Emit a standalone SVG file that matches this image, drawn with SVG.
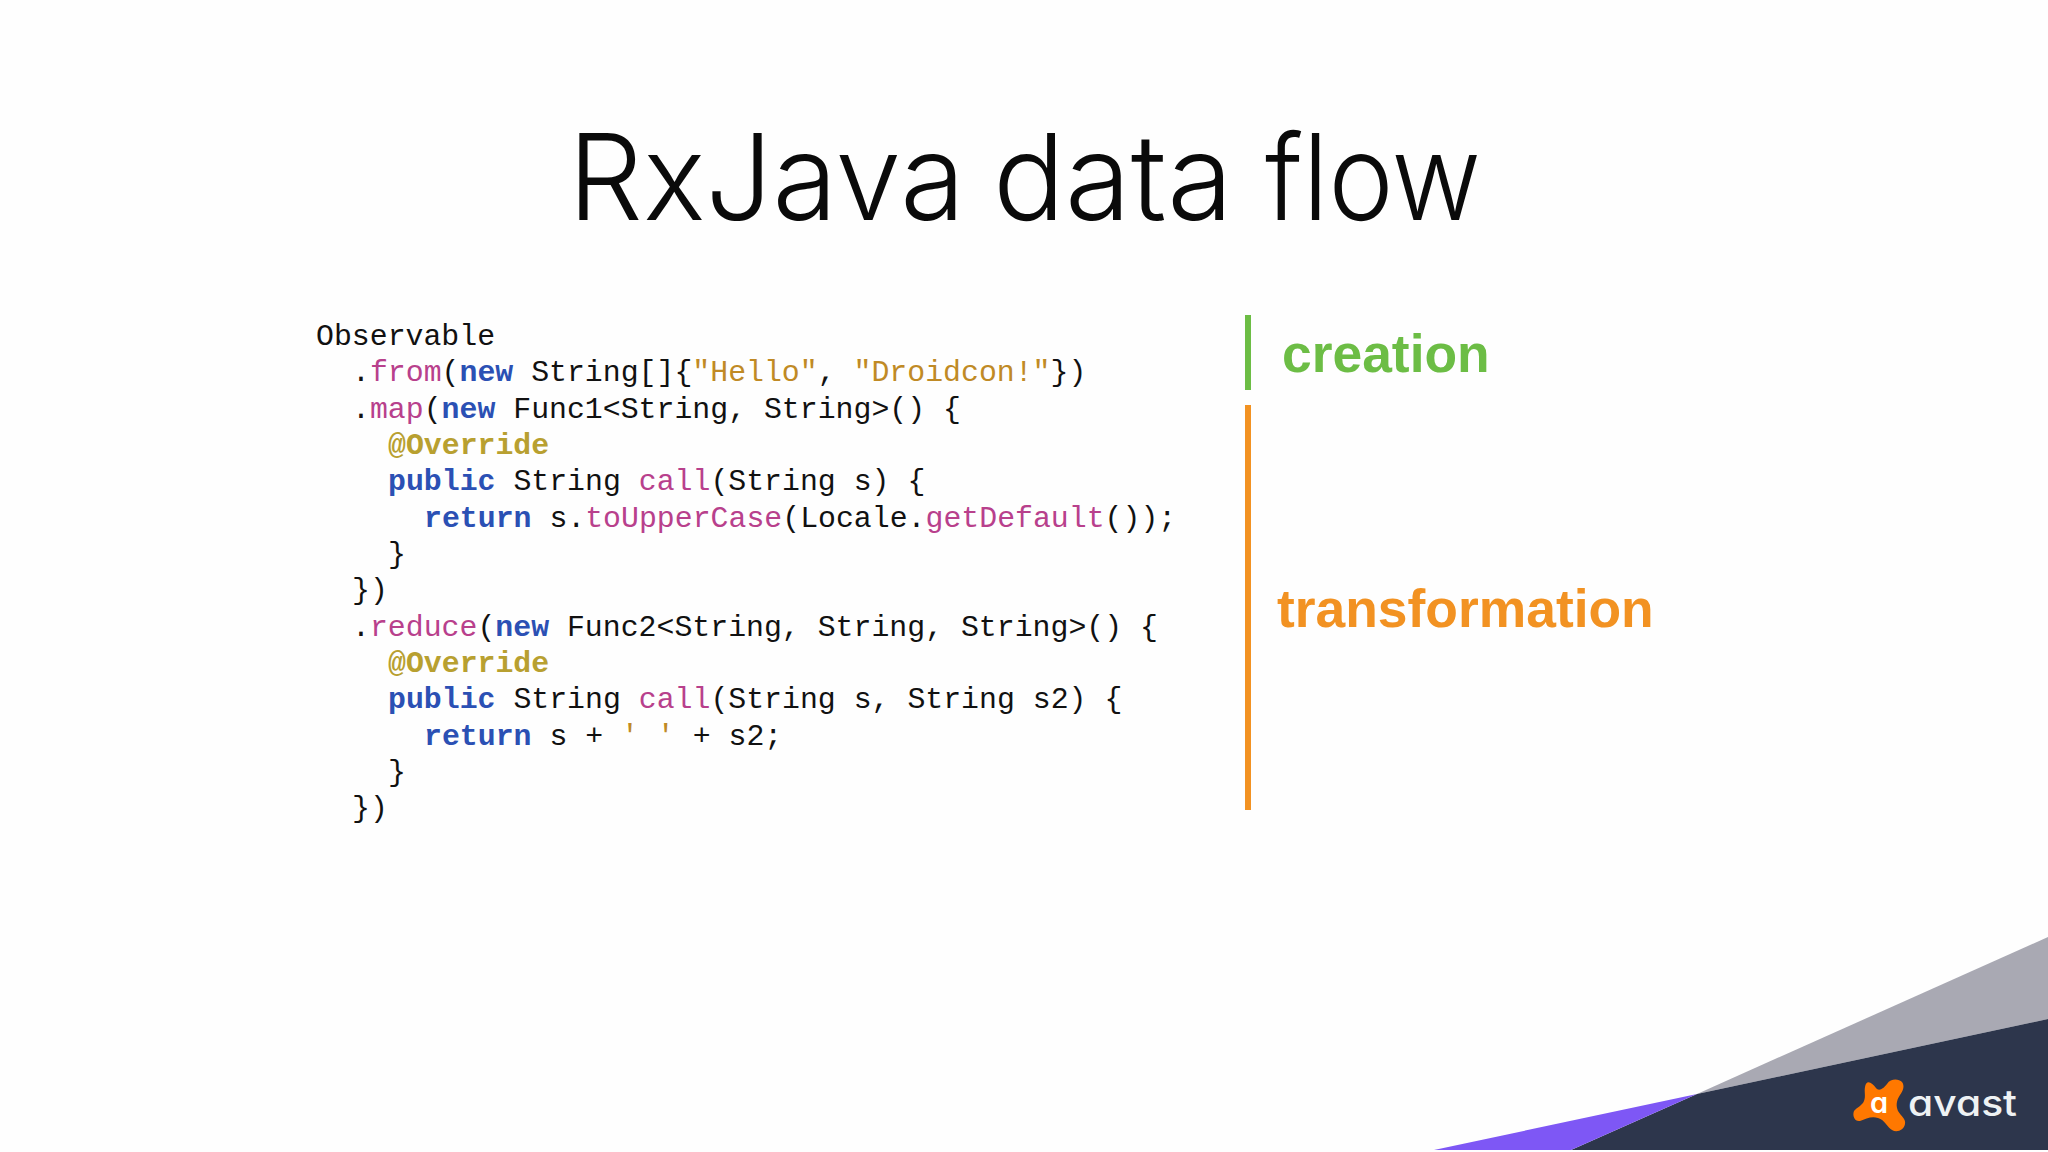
<svg xmlns="http://www.w3.org/2000/svg" width="2048" height="1152" viewBox="0 0 2048 1152">
<style>
.c{font-family:"Liberation Mono",monospace;font-size:29.85px;fill:#111;white-space:pre}
.k{fill:#2b50b4;font-weight:bold}.m{fill:#b8408c}.s{fill:#c08a25}.a{fill:#b8a030;font-weight:bold}
.l{font-family:"Liberation Sans",Arial,sans-serif;font-weight:bold;font-size:53.4px}
.v{font-family:Inter,sans-serif;font-feature-settings:"cv11" 1}
</style>
<rect width="2048" height="1152" fill="#fefefe"/>
<text id="title" y="220" font-family="Inter,sans-serif" font-weight="300" font-size="119" fill="#0a0a0a"><tspan x="568" textLength="397" lengthAdjust="spacingAndGlyphs">RxJava</tspan> <tspan x="993" textLength="240" lengthAdjust="spacingAndGlyphs">data</tspan> <tspan x="1265" textLength="216" lengthAdjust="spacingAndGlyphs">flow</tspan></text>
<g id="code">
<text class="c" x="316" y="345">Observable</text>
<text class="c" x="352" y="381">.<tspan class="m">from</tspan>(<tspan class="k">new</tspan> String[]{<tspan class="s">"Hello"</tspan>, <tspan class="s">"Droidcon!"</tspan>})</text>
<text class="c" x="352" y="417.5">.<tspan class="m">map</tspan>(<tspan class="k">new</tspan> Func1&lt;String, String&gt;() {</text>
<text class="c a" x="388" y="454">@Override</text>
<text class="c" x="388" y="490"><tspan class="k">public</tspan> String <tspan class="m">call</tspan>(String s) {</text>
<text class="c" x="424" y="526.5"><tspan class="k">return</tspan> s.<tspan class="m">toUpperCase</tspan>(Locale.<tspan class="m">getDefault</tspan>());</text>
<text class="c" x="388" y="563">}</text>
<text class="c" x="352" y="599">})</text>
<text class="c" x="352" y="635.5">.<tspan class="m">reduce</tspan>(<tspan class="k">new</tspan> Func2&lt;String, String, String&gt;() {</text>
<text class="c a" x="388" y="672">@Override</text>
<text class="c" x="388" y="708"><tspan class="k">public</tspan> String <tspan class="m">call</tspan>(String s, String s2) {</text>
<text class="c" x="424" y="744.5"><tspan class="k">return</tspan> s + <tspan class="s">' '</tspan> + s2;</text>
<text class="c" x="388" y="781">}</text>
<text class="c" x="352" y="817">})</text>
</g>
<g id="creation">
<rect x="1245" y="315" width="6" height="75" fill="#6cbd45"/>
<text class="l" x="1282" y="372" fill="#6cbd45">creation</text>
</g>
<g id="transformation">
<rect x="1245" y="405" width="6" height="405" fill="#f29222"/>
<text class="l" x="1277" y="627" fill="#f29222">transformation</text>
</g>
<g id="corner">
<polygon points="1697,1094 2048,937 2048,1019" fill="#a9a9b3"/>
<polygon points="1697,1094 2048,1019 2048,1150 1571,1150" fill="#2d364c"/>
<polygon points="1434,1150 1697,1094 1571,1150" fill="#7e57f5"/>
<rect y="1150" x="0" width="2048" height="2" fill="#fefefe"/>
</g>
<g id="logo">
<path d="M1865 1087C1866 1079 1872 1082 1876 1088C1879 1092 1884 1088 1887 1084C1891 1078 1899 1079 1902 1082C1905 1086 1903 1091 1900 1095C1896 1101 1896 1106 1898 1111C1901 1116 1906 1119 1905 1124C1904 1130 1897 1133 1892 1130C1887 1127 1885 1120 1878 1118C1871 1116 1866 1119 1860 1121C1855 1122 1852 1116 1854 1111C1857 1107 1862 1106 1864 1101C1866 1096 1864 1092 1865 1087Z" fill="#ff7800"/>
<text class="v" x="1870" y="1113" font-size="29" font-weight="600" fill="#fff">a</text>
<text class="v" x="1908" y="1116" font-size="36" font-weight="500" fill="#eef2f4" textLength="109" lengthAdjust="spacingAndGlyphs">avast</text>
</g>
</svg>
